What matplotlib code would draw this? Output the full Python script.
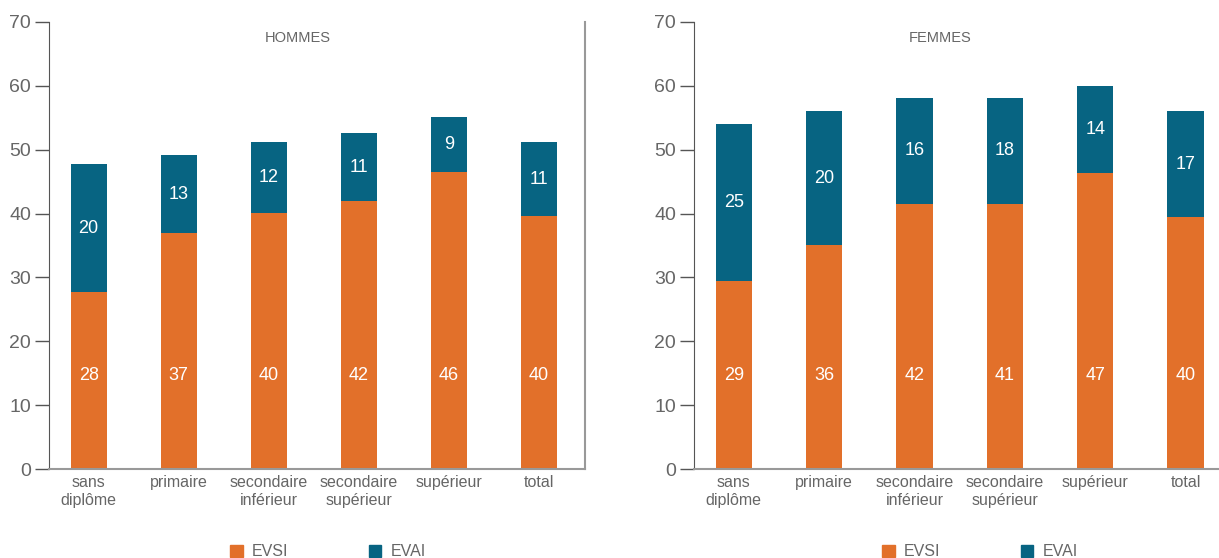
import numpy as np
import matplotlib
matplotlib.use("Agg")
import matplotlib.pyplot as plt
from matplotlib.patches import Patch

plt.rcParams['font.family'] = ['Liberation Sans', 'DejaVu Sans']

categories = ["sans\ndiplôme", "primaire", "secondaire\ninférieur",
              "secondaire\nsupérieur", "supérieur", "total"]

# bar heights
hommes_evsi = [27.7, 36.9, 40.1, 41.9, 46.5, 39.6]
hommes_evai = [20.0, 12.3, 11.1, 10.7, 8.6, 11.6]
femmes_evsi = [29.5, 35.1, 41.5, 41.5, 46.4, 39.5]
femmes_evai = [24.5, 20.9, 16.6, 16.6, 13.6, 16.5]

# labels as printed on the bars
hommes_evsi_lab = [28, 37, 40, 42, 46, 40]
hommes_evai_lab = [20, 13, 12, 11, 9, 11]
femmes_evsi_lab = [29, 36, 42, 41, 47, 40]
femmes_evai_lab = [25, 20, 16, 18, 14, 17]

orange = "#E2702A"
teal = "#076482"
grey = "#666666"
axis_grey = "#999999"

fig = plt.figure(figsize=(12.19, 5.58), dpi=100)
W, H = 1219, 558

def panel(left_px, right_px, title, title_x, evsi, evai, evsi_lab, evai_lab, xmax, border):
    ax = fig.add_axes([left_px / W, (H - 469) / H, (right_px - left_px) / W, (469 - 22) / H])
    x = np.arange(len(categories))
    ax.bar(x, evsi, width=0.4, color=orange)
    ax.bar(x, evai, width=0.4, bottom=evsi, color=teal)
    for i in range(len(x)):
        ax.text(x[i], 14.7, str(evsi_lab[i]), ha="center", va="center",
                color="white", fontsize=13)
        ax.text(x[i], evsi[i] + evai[i] / 2, str(evai_lab[i]), ha="center",
                va="center", color="white", fontsize=13)
    ax.set_xlim(-0.44, xmax)
    ax.set_ylim(0, 70)
    ax.set_yticks(range(0, 71, 10))
    ax.set_xticks(x)
    ax.set_xticklabels(categories, fontsize=11.5, color=grey, linespacing=1.3)
    ax.tick_params(axis="x", length=0, pad=4)
    ax.tick_params(axis="y", length=10, width=1, color="#555555",
                   labelsize=14, labelcolor=grey, pad=3)
    ax.spines["top"].set_visible(False)
    ax.spines["left"].set_color("#555555")
    ax.spines["bottom"].set_color(axis_grey)
    ax.spines["bottom"].set_linewidth(1.5)
    if border:
        ax.spines["right"].set_color(axis_grey)
        ax.spines["right"].set_linewidth(1.5)
    else:
        ax.spines["right"].set_visible(False)
    ax.text(title_x, 0.965, title, transform=ax.transAxes, ha="center",
            va="center", fontsize=10.5, color=grey)
    return ax

panel(49, 585, "HOMMES", (298 - 49) / 536, hommes_evsi, hommes_evai,
      hommes_evsi_lab, hommes_evai_lab, 5.51, True)
panel(694, 1219, "FEMMES", (940 - 694) / 525, femmes_evsi, femmes_evai,
      femmes_evsi_lab, femmes_evai_lab, 5.37, False)

handles = [Patch(color=orange, label="EVSI"), Patch(color=teal, label="EVAI")]
for cx in [328, 980]:
    fig.legend(handles=handles, loc="center", bbox_to_anchor=(cx / W, (H - 552) / H),
               ncol=2, frameon=False, fontsize=11.5, handlelength=0.8,
               handleheight=0.8, handletextpad=0.6, columnspacing=5.0,
               labelcolor=grey)

fig.savefig("out.png", dpi=100)
